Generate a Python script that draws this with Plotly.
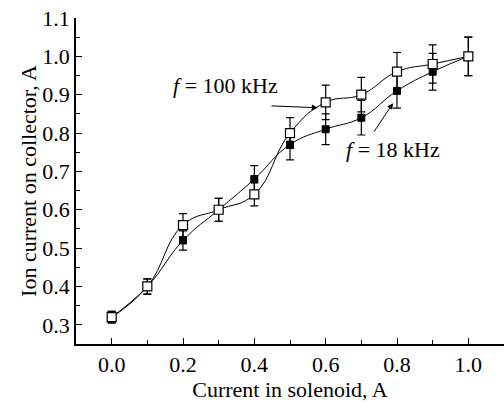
import plotly.graph_objects as go

# Solenoid current (A)
solenoid_current = [0.0, 0.1, 0.2, 0.3, 0.4, 0.5, 0.6, 0.7, 0.8, 0.9, 1.0]

# Ion current on collector (A) at two discharge frequencies
ion_100khz = [0.32, 0.40, 0.56, 0.60, 0.64, 0.80, 0.88, 0.90, 0.96, 0.98, 1.00]
err_100khz = [0.015, 0.02, 0.03, 0.03, 0.03, 0.04, 0.045, 0.045, 0.05, 0.05, 0.05]

ion_18khz = [0.32, 0.40, 0.52, 0.60, 0.68, 0.77, 0.81, 0.84, 0.91, 0.96, 1.00]
err_18khz = [0.015, 0.02, 0.025, 0.03, 0.035, 0.04, 0.04, 0.045, 0.045, 0.048, 0.05]

x_ticks = [0.0, 0.2, 0.4, 0.6, 0.8, 1.0]
x_tick_labels = ["0.0", "0.2", "0.4", "0.6", "0.8", "1.0"]
y_ticks = [0.3, 0.4, 0.5, 0.6, 0.7, 0.8, 0.9, 1.0, 1.1]
y_tick_labels = ["0.3", "0.4", "0.5", "0.6", "0.7", "0.8", "0.9", "1.0", "1.1"]

FONT = "Liberation Serif"
FS = 22

fig = go.Figure()

fig.add_trace(go.Scatter(
    x=solenoid_current, y=ion_18khz,
    mode="lines+markers",
    line=dict(color="black", width=1, shape="spline", smoothing=1.3),
    marker=dict(symbol="square", size=7, color="black",
                line=dict(color="black", width=1)),
    error_y=dict(type="data", array=err_18khz, color="black",
                 thickness=1.2, width=4),
    showlegend=False,
))

fig.add_trace(go.Scatter(
    x=solenoid_current, y=ion_100khz,
    mode="lines+markers",
    line=dict(color="black", width=1, shape="spline", smoothing=1.3),
    marker=dict(symbol="square", size=9, color="white",
                line=dict(color="black", width=1.2)),
    error_y=dict(type="data", array=err_100khz, color="black",
                 thickness=1.2, width=4),
    showlegend=False,
))

# Pointer arrows from the labels to the curves
fig.add_annotation(
    x=0.578, y=0.866, xref="x", yref="y",
    ax=0.444, ay=0.871, axref="x", ayref="y",
    showarrow=True, arrowhead=2, arrowsize=1.2, arrowwidth=1,
    arrowcolor="black", text="",
)
fig.add_annotation(
    x=0.789, y=0.878, xref="x", yref="y",
    ax=0.733, ay=0.800, axref="x", ayref="y",
    showarrow=True, arrowhead=2, arrowsize=1.2, arrowwidth=1,
    arrowcolor="black", text="",
)
fig.add_annotation(
    x=0.32, y=0.925, xref="x", yref="y",
    text="<i>f</i> = 100 kHz", showarrow=False,
    font=dict(family=FONT, size=FS, color="black"),
)
fig.add_annotation(
    x=0.79, y=0.757, xref="x", yref="y",
    text="<i>f</i> = 18 kHz", showarrow=False,
    font=dict(family=FONT, size=FS, color="black"),
)

axis_common = dict(
    showline=True, linecolor="black", linewidth=1.5,
    ticks="inside", ticklen=6, tickwidth=1.2, tickcolor="black",
    showgrid=False, zeroline=False, mirror=False,
    tickfont=dict(family=FONT, size=FS, color="black"),
)

fig.update_xaxes(
    range=[-0.1, 1.1], tickvals=x_ticks, ticktext=x_tick_labels,
    minor=dict(tickvals=[0.1, 0.3, 0.5, 0.7, 0.9], ticks="inside",
               ticklen=4, tickwidth=1.2, tickcolor="black"),
    title=dict(text="Current in solenoid, A",
               font=dict(family=FONT, size=FS, color="black"), standoff=2),
    **axis_common,
)
fig.update_yaxes(
    range=[0.25, 1.1], tickvals=y_ticks, ticktext=y_tick_labels,
    minor=dict(tickvals=[0.35, 0.45, 0.55, 0.65, 0.75, 0.85, 0.95, 1.05],
               ticks="inside", ticklen=4, tickwidth=1.2, tickcolor="black"),
    title=dict(text="Ion current on collector, A",
               font=dict(family=FONT, size=FS, color="black"), standoff=0),
    **axis_common,
)

fig.update_layout(
    width=504, height=405,
    margin=dict(l=76, r=0, t=18, b=61),
    paper_bgcolor="white", plot_bgcolor="white",
    font=dict(family=FONT, color="black"),
)

fig.write_html("out.html")
